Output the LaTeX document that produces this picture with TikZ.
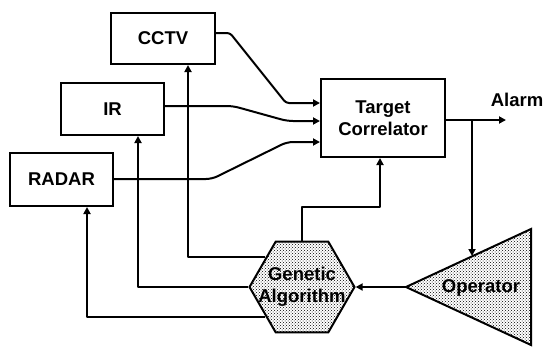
\documentclass[tikz,border=0pt]{standalone}
\usepackage{fontspec}
\setmainfont{Liberation Sans}
\usetikzlibrary{arrows.meta,shapes.geometric,patterns}
\begin{document}
\begin{tikzpicture}[x=1pt,y=-1pt,
  lbl/.style={font=\fontsize{18.5}{21.5}\selectfont\bfseries, inner sep=0pt, align=center},
  blk/.style={draw, line width=2pt, rectangle, inner sep=0pt},
  wire/.style={line width=2pt, line join=round},
  arr/.style={wire, -{Triangle[length=7pt,width=7pt]}},
  hexa/.style={draw, line width=2pt, regular polygon, regular polygon sides=6,
     minimum size=105pt, inner sep=0pt, pattern=crosshatch dots, pattern color=black}
]
\useasboundingbox (0,0) rectangle (546,348);
% boxes
\node[blk, minimum width=104pt, minimum height=51pt] (cctv) at (163,38.5) {};
\node[lbl] at (cctv) {CCTV};
\node[blk, minimum width=103pt, minimum height=52pt] (ir) at (112.5,109) {};
\node[lbl] at (ir) {IR};
\node[blk, minimum width=103pt, minimum height=53pt] (radar) at (61.5,179.5) {};
\node[lbl] at (radar) {RADAR};
\node[blk, minimum width=124pt, minimum height=78pt] (tc) at (383,118) {};
\node[lbl] at (tc) {Target\\Correlator};
\node[lbl, anchor=center] (alarm) at (517,100) {Alarm};
% genetic algorithm
\node[hexa] (ga) at (302,287) {};
\node[lbl] at (ga) {Genetic\\Algorithm};
% operator triangle
\coordinate (opapex) at (406,287);
\coordinate (optop) at (531,229);
\coordinate (opbot) at (531,345);
\filldraw[line width=2pt, line join=miter, pattern=crosshatch dots, pattern color=black]
  (opapex) -- (optop) -- (opbot) -- cycle;
\node[lbl] (op) at (481,288) {Operator};
\coordinate (opin) at (472,256);
% inputs to target correlator
\draw[arr, rounded corners=3pt] (cctv.east |- 0,33) -- (230,33) -- (286,103) -- (tc.west |- 0,103);
\draw[arr, rounded corners=6pt] (ir.east |- 0,106) -- (233,106) -- (287,121) -- (tc.west |- 0,121);
\draw[arr, rounded corners=6pt] (radar.east |- 0,179) -- (212,179) -- (287,142) -- (tc.west |- 0,142);
% outputs
\draw[arr] (tc.east |- 0,120) -- (506,120);
\draw[arr] (472,120) -- (opin);
\draw[arr] (opapex) -- (ga.east);
\draw[arr] (ga.north) -- (302,207) -- (380,207) -- (tc.south -| 380,0);
% feedback to sensors
\draw[arr] (ga.141) -| (cctv.south -| 188,0);
\draw[arr] (ga.west) -| (ir.south -| 138,0);
\draw[arr] (ga.219) -| (radar.south -| 87,0);
\end{tikzpicture}
\end{document}
